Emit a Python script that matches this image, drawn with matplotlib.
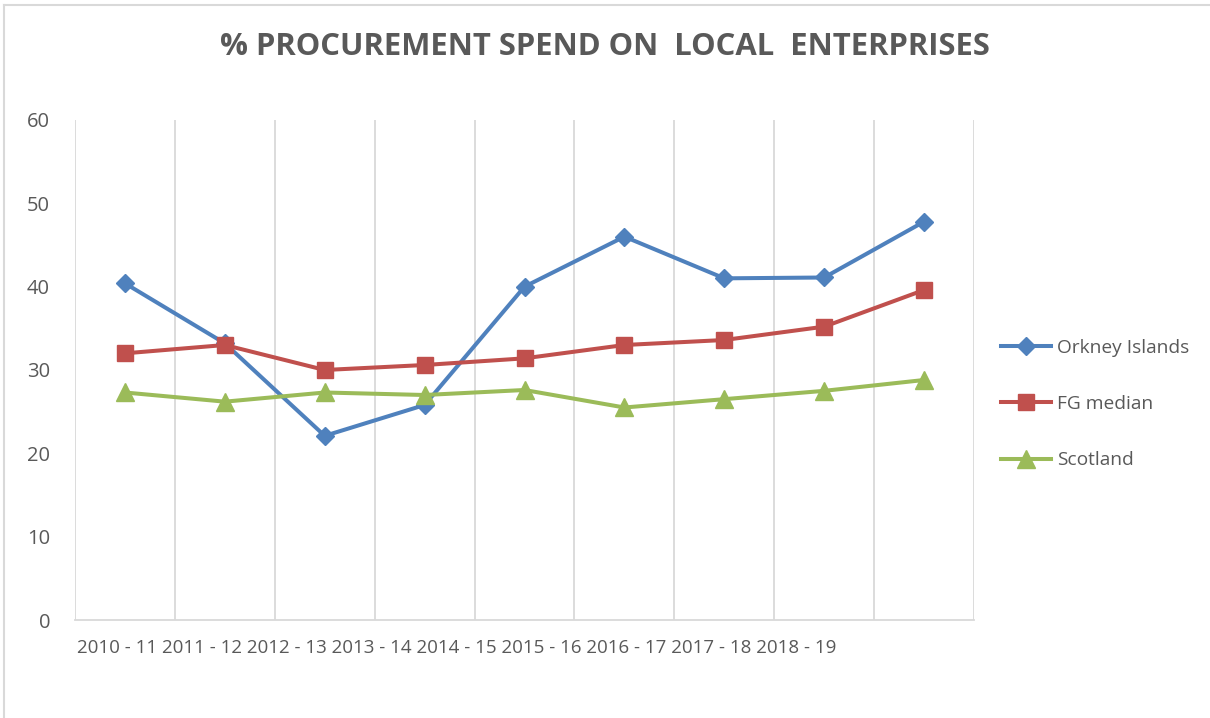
import matplotlib
matplotlib.use('Agg')
import matplotlib.pyplot as plt
from matplotlib.lines import Line2D

# ── data ─────────────────────────────────────
years = ['2010 - 11', '2011 - 12', '2012 - 13', '2013 - 14', '2014 - 15',
         '2015 - 16', '2016 - 17', '2017 - 18', '2018 - 19']
orkney    = [40.4, 33.2, 22.1, 25.8, 40.0, 46.0, 41.0, 41.1, 47.8]
fg_median = [32.0, 33.0, 30.0, 30.6, 31.4, 33.0, 33.6, 35.2, 39.6]
scotland  = [27.3, 26.2, 27.3, 27.0, 27.6, 25.5, 26.5, 27.5, 28.8]

BLUE, RED, GREEN = '#4F81BD', '#C0504D', '#9BBB59'
TEXT = '#595959'
GRID = '#D9D9D9'
FONT = 'Open Sans'

W, H = 1210, 718
fig = plt.figure(figsize=(W / 100, H / 100), dpi=100, facecolor='white')

# outer chart frame (only top/left edges visible)
fig.add_artist(Line2D([4 / W, 1], [1 - 5 / H, 1 - 5 / H], color=GRID, lw=1.5))
fig.add_artist(Line2D([4 / W, 4 / W], [0, 1 - 5 / H], color=GRID, lw=1.5))

ax = fig.add_axes([75 / W, (H - 620) / H, 899 / W, 500 / H])
x = [i + 0.5 for i in range(len(years))]

ax.plot(x, orkney, color=BLUE, lw=2.9, marker='D', ms=9.5, label='Orkney Islands', zorder=3)
ax.plot(x, fg_median, color=RED, lw=2.9, marker='s', ms=11, label='FG median', zorder=3)
ax.plot(x, scotland, color=GREEN, lw=2.9, marker='^', ms=12.5, label='Scotland', zorder=3)

ax.set_xlim(0, len(years))
ax.set_ylim(0, 60)
ax.set_yticks(range(0, 61, 10))
ax.set_xticks(range(0, len(years) + 1))
ax.set_xticklabels([])
ax.grid(axis='x', color=GRID, lw=1.3, zorder=0)
ax.set_axisbelow(True)
for s in ['top', 'right', 'left']:
    ax.spines[s].set_visible(False)
ax.spines['bottom'].set_color(GRID)
ax.spines['bottom'].set_linewidth(1.3)
ax.tick_params(axis='both', length=0)
ax.tick_params(axis='y', pad=18, labelsize=14.5, labelcolor=TEXT)
for t in ax.get_yticklabels():
    t.set_fontfamily(FONT)

# category labels crowd together from the left edge, as in the original
ax.text(0.002, -0.056, ' '.join(years), transform=ax.transAxes, ha='left', va='center',
        fontsize=13.5, color=TEXT, family=FONT)

fig.text(0.5, 1 - 47 / H, '% PROCUREMENT SPEND ON  LOCAL  ENTERPRISES',
         ha='center', va='center', fontsize=22.3, fontweight='bold', color=TEXT, family=FONT)

leg = ax.legend(loc='center left', bbox_to_anchor=(1.0 + 10 / 899, 0.432), frameon=False,
                labelspacing=2.0, handlelength=2.6, handletextpad=0.3,
                labelcolor=TEXT, prop={'family': FONT, 'size': 13.8})

fig.savefig('out.png', dpi=100, facecolor='white')
